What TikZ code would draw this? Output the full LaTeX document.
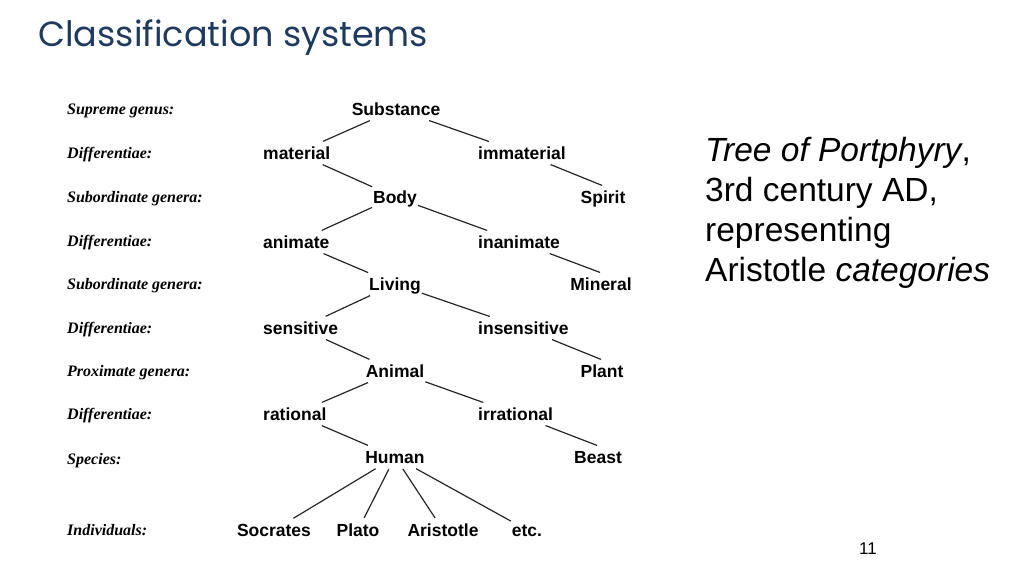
\documentclass[tikz,border=0pt]{standalone}
\usepackage{fontspec}
\setmainfont{Liberation Serif}
\setsansfont{Liberation Sans}
\newfontfamily\titlefont{Poppins}
\usetikzlibrary{positioning}
\definecolor{titleblue}{HTML}{1F3A5F}

\begin{document}
\begin{tikzpicture}[x=1pt,y=-1pt]
    \tikzstyle{genus} = [font=\sffamily\bfseries\fontsize{17.5}{20}\selectfont,
        inner xsep=0pt, inner ysep=3pt, text height=14pt, text depth=2pt]
    \tikzstyle{diff} = [genus, anchor=west]
    \tikzstyle{level} = [font=\rmfamily\bfseries\itshape\fontsize{16}{18}\selectfont,
        anchor=west, inner sep=0pt, text height=12pt, text depth=2pt]
    \tikzstyle{line} = [draw, line width=1.2pt, black!85, shorten <=1pt, shorten >=1pt]

    \useasboundingbox (0,0) rectangle (1024,576);

    % Title
    \node[anchor=base west, inner sep=0pt, text=titleblue,
        font=\titlefont\fontsize{35}{40}\selectfont] (title) at (38,46)
        {Classification systems};

    % Levels
    \node[level] (lsupreme) at (67,109) {Supreme genus:};
    \node[level] (ldiff1) at (67,153) {Differentiae:};
    \node[level] (lsub1) at (67,197) {Subordinate genera:};
    \node[level] (ldiff2) at (67,241) {Differentiae:};
    \node[level] (lsub2) at (67,284) {Subordinate genera:};
    \node[level] (ldiff3) at (67,328) {Differentiae:};
    \node[level] (lprox) at (67,371) {Proximate genera:};
    \node[level] (ldiff4) at (67,414) {Differentiae:};
    \node[level] (lspecies) at (67,459) {Species:};
    \node[level] (lindiv) at (67,530) {Individuals:};

    % Tree
    \node[genus] (substance) at (396,109) {Substance};
    \node[diff] (material) at (263,153) {material};
    \node[diff] (immaterial) at (478,153) {immaterial};
    \node[genus] (body) at (395,197) {Body};
    \node[genus] (spirit) at (603,197) {Spirit};
    \node[diff] (animate) at (263,242) {animate};
    \node[diff] (inanimate) at (478,242) {inanimate};
    \node[genus] (living) at (395,284) {Living};
    \node[genus] (mineral) at (601,284) {Mineral};
    \node[diff] (sensitive) at (263,328) {sensitive};
    \node[diff] (insensitive) at (478,328) {insensitive};
    \node[genus] (animal) at (395,371) {Animal};
    \node[genus] (plant) at (602,371) {Plant};
    \node[diff] (rational) at (263,414) {rational};
    \node[diff] (irrational) at (478,414) {irrational};
    \node[genus] (human) at (395,457) {Human};
    \node[genus] (beast) at (598,457) {Beast};
    \node[genus] (socrates) at (274,530) {Socrates};
    \node[genus] (plato) at (358,530) {Plato};
    \node[genus] (aristotle) at (443,530) {Aristotle};
    \node[genus] (etc) at (527,530) {etc.};

    \draw[line] (substance) -- (material);
    \draw[line] (substance) -- (immaterial);
    \draw[line] (material) -- (body);
    \draw[line] (immaterial) -- (spirit.north);
    \draw[line] (body) -- (animate);
    \draw[line] (body) -- (inanimate);
    \draw[line] (animate) -- (living);
    \draw[line] (inanimate) -- (mineral.north);
    \draw[line] (living) -- (sensitive);
    \draw[line] (living) -- (insensitive);
    \draw[line] (sensitive) -- (animal);
    \draw[line] (insensitive) -- (plant.north);
    \draw[line] (animal) -- (rational);
    \draw[line] (animal) -- (irrational);
    \draw[line] (rational) -- (human);
    \draw[line] (irrational) -- (beast.north);
    \foreach \ind in {socrates,plato,aristotle,etc}
        \draw[line] (human) -- (\ind);

    % Caption
    \node[anchor=north west, inner sep=0pt, align=left,
        font=\sffamily\fontsize{33.5}{40}\selectfont] (caption) at (705,137)
        {\textit{Tree of Portphyry},\\3rd century AD,\\representing\\Aristotle \textit{categories}};

    % Page number
    \node[font=\sffamily\fontsize{17}{20}\selectfont, inner sep=0pt] (page) at (868,549) {11};
\end{tikzpicture}
\end{document}
